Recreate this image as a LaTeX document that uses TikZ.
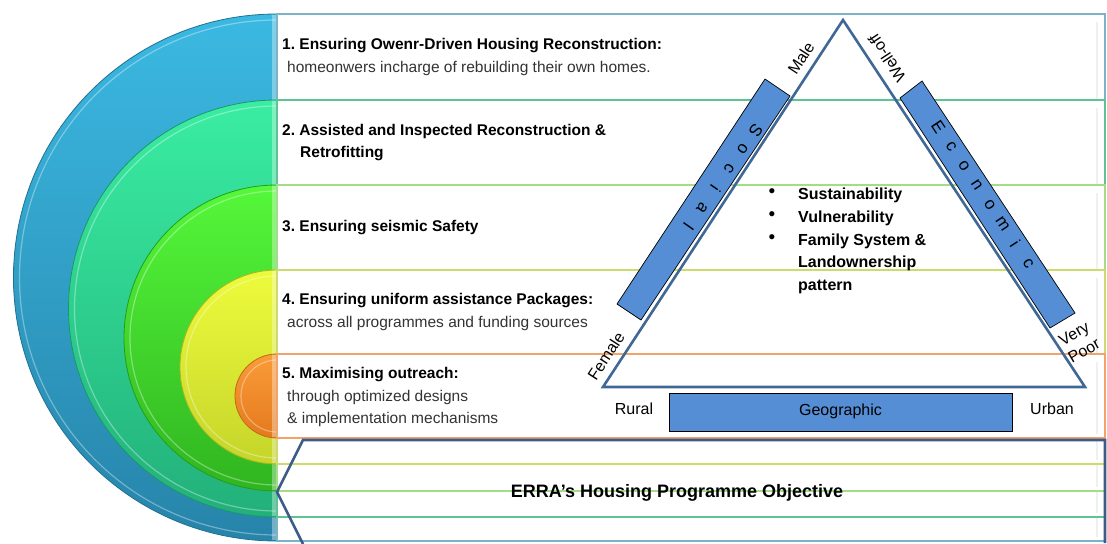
\documentclass[tikz,border=0pt]{standalone}
\usepackage{fontspec}
\setmainfont{Liberation Sans}
\usepackage{xcolor}
\usepackage{tikz}
\frenchspacing
\definecolor{blueA}{HTML}{3BB9E2}
\definecolor{blueB}{HTML}{2784AA}
\definecolor{blueL}{HTML}{7BB4C6}
\definecolor{tealA}{HTML}{3AEDA2}
\definecolor{tealB}{HTML}{22B07A}
\definecolor{tealL}{HTML}{5CC392}
\definecolor{greenA}{HTML}{55F83A}
\definecolor{greenB}{HTML}{30B520}
\definecolor{greenL}{HTML}{A3DD88}
\definecolor{yellowA}{HTML}{EEFB3C}
\definecolor{yellowB}{HTML}{C5D52A}
\definecolor{yellowL}{HTML}{CBDB6C}
\definecolor{orangeA}{HTML}{FA9C38}
\definecolor{orangeB}{HTML}{E47A1E}
\definecolor{orangeL}{HTML}{F2A36A}
\definecolor{triline}{HTML}{3F6896}
\definecolor{barblue}{HTML}{558ED5}
\definecolor{arrowline}{HTML}{3B5C88}
\definecolor{subtext}{HTML}{333333}

\begin{document}
\begin{tikzpicture}[x=1pt,y=-1pt,line join=miter,
  every node/.style={font=\fontsize{15.5}{18}\selectfont,inner sep=0pt},
  rowtitle/.style={anchor=base west,font=\fontsize{15.5}{18}\selectfont\bfseries},
  rowtext/.style={anchor=base west,text=subtext},
  bar/.style={fill=barblue,draw=black,line width=0.7pt},
  barletter/.style={font=\fontsize{17}{19}\selectfont},
  sidelabel/.style={font=\fontsize{16}{20}\selectfont},
  bulletitem/.style={anchor=base west,font=\fontsize{16}{18}\selectfont\bfseries},
  tri/.style={draw=triline,line width=2.6pt}]
  \useasboundingbox (0,0) rectangle (1107,543);
  % nested half discs with their bands
  \foreach \t/\b/\ca/\cb/\cl in {14/541/blueA/blueB/blueL,100/517/tealA/tealB/tealL,
      185/491/greenA/greenB/greenL,270/464/yellowA/yellowB/yellowL,354/438/orangeA/orangeB/orangeL}{
    \pgfmathsetmacro\r{(\b-\t)/2}
    \draw[top color=\ca,bottom color=\cb,draw=\cb!85!black,line width=0.8pt]
      (277,\t) arc[start angle=270,end angle=90,radius=\r] -- cycle;
    \draw[white,opacity=.35,line width=1.2pt] (277,\t+6) arc[start angle=270,end angle=90,radius=\r-6];
    \fill[white,opacity=.35] (272,\t+1) rectangle (277,\b-1);
    \draw[fill=white,draw=\cl,line width=1.6pt] (277,\t) rectangle (1105,\b);
    \draw[black!6,line width=2pt] (1097,\t+8) -- (1097,\b-4);
  }
  % row texts
  \node[rowtitle] (r1t) at (282,50) {1. Ensuring Owenr-Driven Housing Reconstruction:};
  \node[rowtext] (r1s) at (287,72) {homeonwers incharge of rebuilding their own homes.};
  \node[rowtitle] (r2t) at (282,135) {2. Assisted and Inspected Reconstruction \&};
  \node[rowtitle] (r2u) at (300,157) {Retrofitting};
  \node[rowtitle] (r3t) at (282,231) {3. Ensuring seismic Safety};
  \node[rowtitle] (r4t) at (282,304) {4. Ensuring uniform assistance Packages:};
  \node[rowtext] (r4s) at (287,327) {across all programmes and funding sources};
  \node[rowtitle] (r5t) at (282,378) {5. Maximising outreach:};
  \node[rowtext] (r5s) at (287,401) {through optimized designs};
  \node[rowtext] (r5u) at (287,423) {\& implementation mechanisms};
  % triangle
  \coordinate (apex) at (843,20);
  \coordinate (rbase) at (1085,387);
  \coordinate (lbase) at (603,387);
  \draw[tri] (apex) -- (rbase) -- (lbase) -- cycle;
  \draw[bar] (765,79) -- (790,96) -- (641,320) -- (617,304) -- cycle;
  \draw[bar] (900,98) -- (922,81) -- (1075,313) -- (1050,328) -- cycle;
  \foreach \ch [count=\i from 0] in {S,o,c,i,a,l}
    \node[barletter,rotate=-125] (soc\i) at (756-13.5*\i,130+19.4*\i) {\ch};
  \foreach \ch [count=\i from 0] in {E,c,o,n,o,m,i,c}
    \node[barletter,rotate=-56.6] (eco\i) at (938.3+12.85*\i,126.7+19.5*\i) {\ch};
  \node[sidelabel,rotate=56.8] (male) at (801,58) {Male};
  \node[sidelabel,rotate=123.4] (welloff) at (887,58) {Well-off};
  \node[sidelabel,rotate=56.8] (female) at (606,356) {Female};
  \node[sidelabel,rotate=30,align=center] (poor) at (1079,342) {Very\\Poor};
  % bullets
  \foreach \yy [count=\i] in {193,216,239}
    \node[font=\fontsize{19}{20}\selectfont] (dot\i) at (772,\yy) {\textbullet};
  \node[bulletitem] (sust) at (798,199) {Sustainability};
  \node[bulletitem] (vuln) at (798,222) {Vulnerability};
  \node[bulletitem] (fam) at (798,245) {Family System \&};
  \node[bulletitem] (land) at (798,267) {Landownership};
  \node[bulletitem] (patt) at (798,290) {pattern};
  % geographic axis
  \node[sidelabel,anchor=base] (rural) at (634,414) {Rural};
  \node[sidelabel,anchor=base] (urban) at (1052,414) {Urban};
  \draw[bar] (669,393) rectangle (1012,431);
  \node[sidelabel,anchor=base] (geo) at (840.5,415) {Geographic};
  % objective arrow
  \draw[draw=arrowline,line width=2.6pt] (1105,543) -- (1105,440) -- (303,440) -- (277,492) -- (303,544);
  \node[font=\fontsize{18}{20}\selectfont\bfseries] (obj) at (677,493) {ERRA’s Housing Programme Objective};
\end{tikzpicture}
\end{document}
